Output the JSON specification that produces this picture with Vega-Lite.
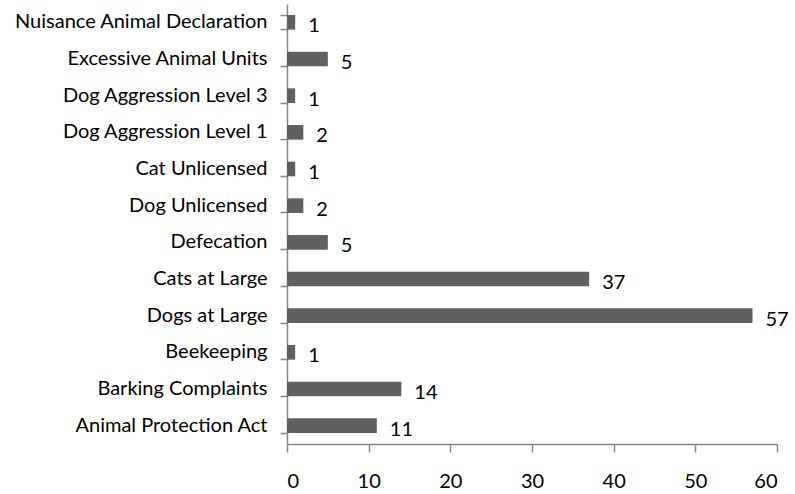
{
  "$schema": "https://vega.github.io/schema/vega-lite/v6.json",
  "width": 490,
  "height": 440,
  "autosize": {"type": "none"},
  "padding": {"left": 287, "top": 4, "right": 18, "bottom": 50},
  "background": "white",
  "data": {
    "values": [
      {"category": "Nuisance Animal Declaration", "count": 1},
      {"category": "Excessive Animal Units", "count": 5},
      {"category": "Dog Aggression Level 3", "count": 1},
      {"category": "Dog Aggression Level 1", "count": 2},
      {"category": "Cat Unlicensed", "count": 1},
      {"category": "Dog Unlicensed", "count": 2},
      {"category": "Defecation", "count": 5},
      {"category": "Cats at Large", "count": 37},
      {"category": "Dogs at Large", "count": 57},
      {"category": "Beekeeping", "count": 1},
      {"category": "Barking Complaints", "count": 14},
      {"category": "Animal Protection Act", "count": 11}
    ]
  },
  "encoding": {
    "y": {
      "field": "category",
      "type": "nominal",
      "sort": null,
      "scale": {"paddingInner": 0.6, "paddingOuter": 0.3},
      "axis": {
        "title": null,
        "bandPosition": 1,
        "tickExtra": true,
        "tickSize": 7,
        "labelPadding": 13,
        "labelLimit": 0,
        "labelFont": "Lato",
        "labelFontSize": 20,
        "labelColor": "#000000",
        "domainColor": "#868686",
        "tickColor": "#868686",
        "domainWidth": 1.5,
        "tickWidth": 1.5,
        "grid": false
      }
    },
    "x": {
      "field": "count",
      "type": "quantitative",
      "scale": {"domain": [0, 60], "nice": false},
      "axis": {
        "title": null,
        "values": [0, 10, 20, 30, 40, 50, 60],
        "tickSize": 8,
        "labelPadding": 19,
        "labelFont": "Lato",
        "labelFontSize": 20,
        "labelColor": "#000000",
        "domainColor": "#868686",
        "tickColor": "#868686",
        "domainWidth": 1.5,
        "tickWidth": 1.5,
        "grid": false
      }
    }
  },
  "layer": [
    {"mark": {"type": "bar", "color": "#606060"}},
    {
      "mark": {"type": "text", "align": "left", "baseline": "middle", "dx": 13, "dy": 4, "font": "Lato", "fontSize": 20, "color": "#000000"},
      "encoding": {"text": {"field": "count", "type": "quantitative"}}
    }
  ],
  "config": {"view": {"stroke": null}}
}
